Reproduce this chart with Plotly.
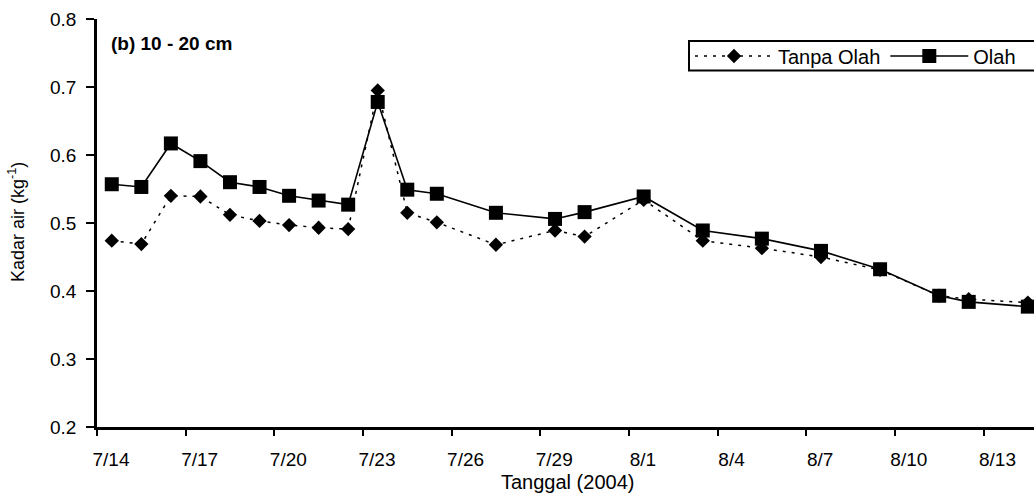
import plotly.graph_objects as go
import pandas as pd

dates = ["2004-07-14", "2004-07-15", "2004-07-16", "2004-07-17", "2004-07-18", "2004-07-19",
         "2004-07-20", "2004-07-21", "2004-07-22", "2004-07-23", "2004-07-24", "2004-07-25",
         "2004-07-27", "2004-07-29", "2004-07-30", "2004-08-01", "2004-08-03", "2004-08-05",
         "2004-08-07", "2004-08-09", "2004-08-11", "2004-08-12", "2004-08-14"]
tanpa_olah = [0.474, 0.469, 0.540, 0.539, 0.512, 0.503, 0.497, 0.493, 0.491, 0.695, 0.515, 0.501,
              0.468, 0.489, 0.480, 0.534, 0.474, 0.463, 0.450, 0.431, 0.393, 0.388, 0.383]
olah = [0.557, 0.553, 0.617, 0.591, 0.560, 0.553, 0.540, 0.533, 0.527, 0.678, 0.549, 0.543,
        0.515, 0.506, 0.516, 0.539, 0.489, 0.477, 0.459, 0.432, 0.393, 0.384, 0.377]
series_names = ["Tanpa Olah", "Olah"]
panel_label = "(b) 10 - 20 cm"
x_title = "Tanggal (2004)"
y_title = "Kadar air (kg<sup>-1</sup>)"

# points plotted at mid-day (Excel date axis, between tick marks)
xs = pd.to_datetime(dates) + pd.Timedelta(hours=12)

FONT = "Liberation Sans, Arial, sans-serif"

fig = go.Figure()
fig.add_trace(go.Scatter(
    x=xs, y=tanpa_olah, name=series_names[0], mode="lines+markers",
    line=dict(color="black", width=1.5, dash="3px,6px"),
    marker=dict(symbol="diamond", size=11, color="black"),
))
fig.add_trace(go.Scatter(
    x=xs, y=olah, name=series_names[1], mode="lines+markers",
    line=dict(color="black", width=1.6),
    marker=dict(symbol="square", size=14, color="black"),
))

L, R, T, B = 97, 0, 19, 73
W, H = 1034, 500
pw = W - L - R
ph = H - T - B
px_per_day = 29.55
start = pd.Timestamp("2004-07-14")
end = start + pd.Timedelta(days=pw / px_per_day)

def px_x(x):
    return (x - L) / pw

def px_y(y):
    return (H - B - y) / ph

fig.update_layout(
    width=W, height=H,
    margin=dict(l=L, r=R, t=T, b=B),
    paper_bgcolor="white", plot_bgcolor="white",
    font=dict(family=FONT, color="black", size=18),
    showlegend=True,
    legend=dict(
        orientation="h", x=px_x(690), y=px_y(56), xanchor="left", yanchor="middle",
        bgcolor="rgba(0,0,0,0)", borderwidth=0,
        font=dict(size=20, family=FONT), itemwidth=78, tracegroupgap=0,
    ),
    xaxis=dict(
        type="date", range=[start, end],
        tick0="2004-07-14", dtick=3 * 86400000, tickformat="%-m/%-d",
        showgrid=False, zeroline=False,
        showline=True, linecolor="black", linewidth=2.5,
        ticks="outside", ticklen=6, tickwidth=1.5, tickcolor="black",
        tickfont=dict(size=19, family=FONT), ticklabelshift=14, ticklabelstandoff=7,
    ),
    yaxis=dict(
        range=[0.2, 0.8], dtick=0.1, tick0=0.2, tickformat=".1f",
        showgrid=False, zeroline=False,
        showline=True, linecolor="black", linewidth=2.5,
        ticks="outside", ticklen=8, tickwidth=1.5, tickcolor="black",
        tickfont=dict(size=19, family=FONT), ticklabelstandoff=6,
    ),
    shapes=[dict(
        type="rect", xref="paper", yref="paper",
        x0=px_x(689), x1=px_x(1040), y0=px_y(70.5), y1=px_y(41),
        line=dict(color="black", width=2), fillcolor="rgba(0,0,0,0)",
    )],
    annotations=[
        dict(text="<b>" + panel_label + "</b>", xref="paper", yref="paper",
             x=px_x(109), y=px_y(43), xanchor="left", yanchor="middle",
             showarrow=False, font=dict(size=19, family=FONT)),
        dict(text=x_title, xref="paper", yref="paper",
             x=px_x(567), y=px_y(482), xanchor="center", yanchor="middle",
             showarrow=False, font=dict(size=20, family=FONT)),
        dict(text=y_title, xref="paper", yref="paper", textangle=-90,
             x=px_x(16), y=px_y(222), xanchor="center", yanchor="middle",
             showarrow=False, font=dict(size=18, family=FONT)),
    ],
)

fig.write_html("out.html")
